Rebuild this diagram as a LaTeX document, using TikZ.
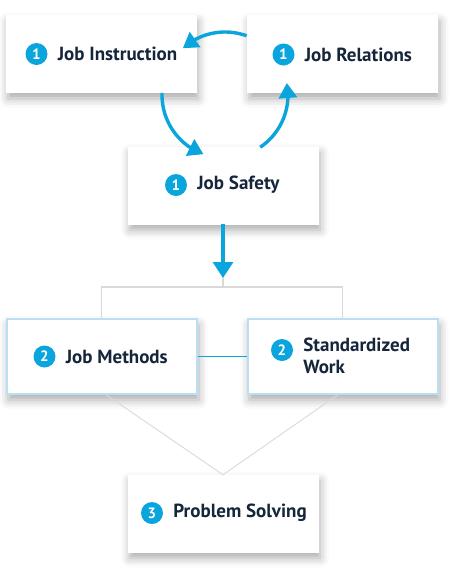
\documentclass[tikz,border=0pt]{standalone}
\usepackage{fontspec}
\setmainfont{PT Sans}
\usetikzlibrary{positioning,arrows.meta,shadows.blur,calc,bending}
\definecolor{twiblue}{HTML}{0AA5DC}
\definecolor{twiink}{HTML}{15263A}
\definecolor{twiedge}{HTML}{B8E0F2}
\definecolor{twigray}{HTML}{D9D9D9}
\tikzset{
	card/.style={rectangle, fill=white, draw=white, minimum width=190pt, minimum height=77pt,
		blur shadow={shadow xshift=2pt, shadow yshift=-6pt, shadow blur radius=9pt, shadow opacity=34}},
	cardedge/.style={card, draw=twiedge, line width=2pt, minimum height=75pt},
	badge/.style={circle, fill=twiblue, text=white, minimum size=22pt, inner sep=0pt, font=\fontsize{15}{15}\selectfont\bfseries},
	lbl/.style={inner sep=0pt, text=twiink, font=\fontsize{19}{21.5}\selectfont\bfseries, align=left},
	flow/.style={draw=twiblue, line width=3.2pt, -{Triangle[width=20pt,length=16pt]}},
	loop/.style={draw=twiblue, line width=3.4pt, -{Triangle[width=18pt,length=15pt]}},
	bracket/.style={draw=twigray, line width=1.2pt},
	link/.style={draw=twiblue, line width=1.6pt},
}
\begin{document}
\begin{tikzpicture}[x=1pt,y=1pt]
	\useasboundingbox (0,0) rectangle (464,-579);
	% cards
	\node [card] (ji) at (101,-54) {};
	\node [card] (jr) at (342.5,-54) {};
	\node [card] (js) at (223,-185.5) {};
	\node [cardedge] (jm) at (101.5,-356.5) {};
	\node [cardedge] (sw) at (342.5,-356.5) {};
	\node [card] (ps) at (223,-513.5) {};
	% badges and labels
	\node [badge] (ji-n) at (36.5,-54) {1};
	\node [lbl, right=10pt of ji-n] (ji-t) {Job Instruction};
	\node [badge] (jr-n) at (283.5,-54.5) {1};
	\node [lbl, right=10pt of jr-n] (jr-t) {Job Relations};
	\node [badge] (js-n) at (176,-185) {1};
	\node [lbl, right=10pt of js-n] (js-t) {Job Safety};
	\node [badge] (jm-n) at (44.5,-356.5) {2};
	\node [lbl, right=10pt of jm-n] (jm-t) {Job Methods};
	\node [badge] (sw-n) at (282,-350) {2};
	\node [lbl, right=10pt of sw-n, yshift=-6pt] (sw-t) {Standardized\\Work};
	\node [badge] (ps-n) at (152,-513) {3};
	\node [lbl, right=10pt of ps-n] (ps-t) {Problem Solving};
	% cycle
	\coordinate (hub) at (225,-95);
	\draw [loop] ($(hub)+(70:63)$) arc [start angle=70, end angle=132, radius=63];
	\draw [loop] ($(hub)+(178:63)$) arc [start angle=178, end angle=250, radius=63];
	\draw [loop] ($(hub)+(304:63)$) arc [start angle=304, end angle=371, radius=63];
	% down to the second level
	\coordinate (tip) at (223,-278);
	\coordinate (fork) at (223,-287);
	\draw [flow] (js.south) -- (tip);
	\draw [bracket] (tip) -- (fork);
	\draw [bracket] (jm.north) |- (fork) -| (sw.north);
	\draw [link] (jm.east) -- (sw.west);
	\draw [twigray, line width=0.9pt] ([xshift=5pt]jm.south) -- (ps.north) -- ([xshift=-5pt]sw.south);
\end{tikzpicture}
\end{document}
